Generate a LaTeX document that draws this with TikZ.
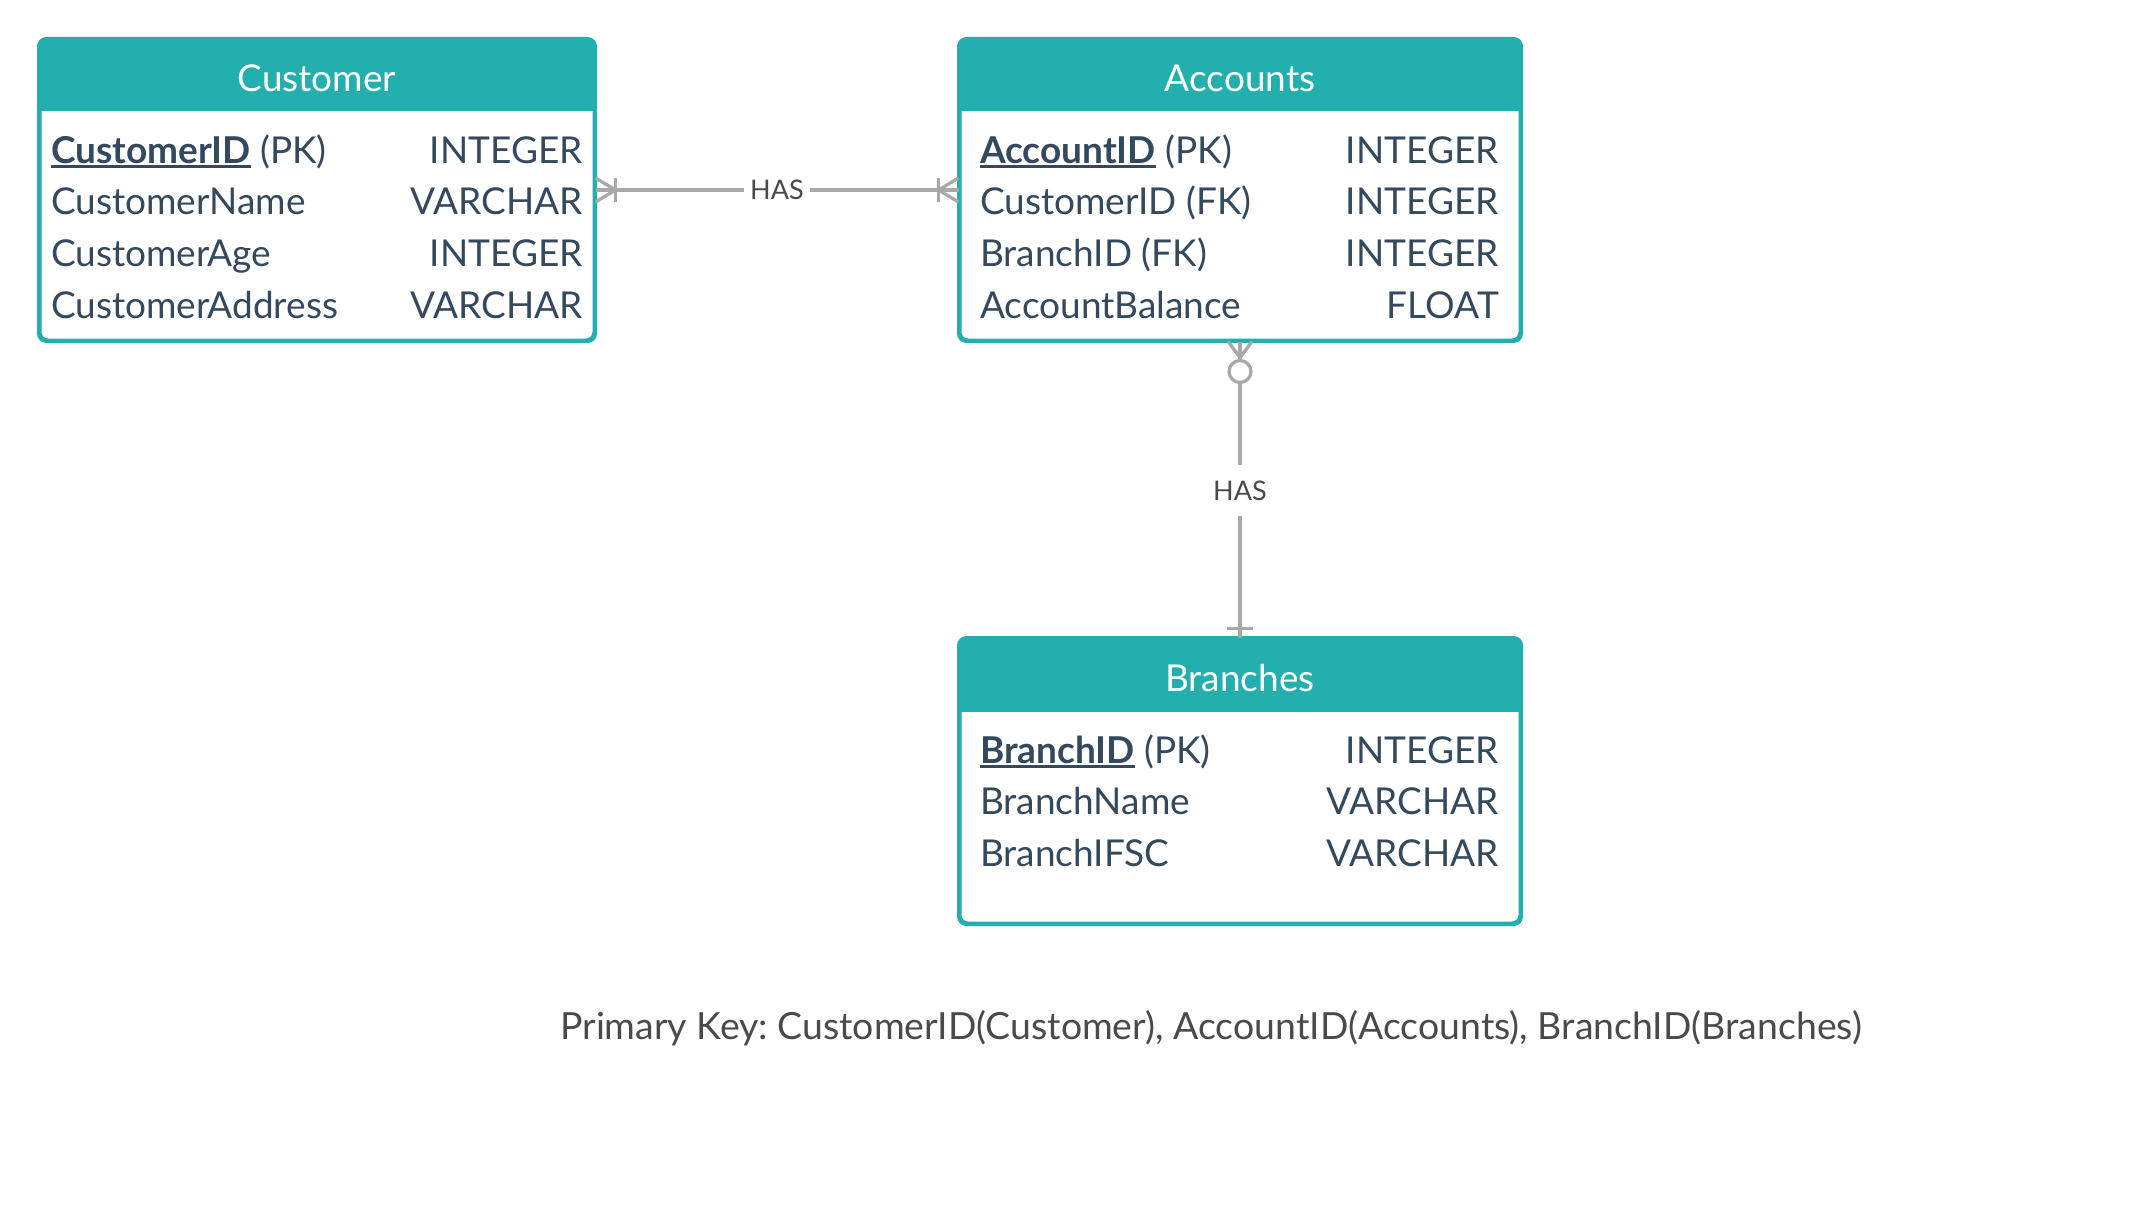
\documentclass[tikz,border=0pt]{standalone}
\usepackage{fontspec}
\setmainfont{Lato}
\usetikzlibrary{calc}
\frenchspacing

\definecolor{erteal}{HTML}{22AFAD}
\definecolor{erink}{HTML}{34495E}
\definecolor{ergrey}{HTML}{A8A8A8}
\definecolor{erlabel}{HTML}{4A4A4A}

% bold, underlined key field
\newcommand{\pkfield}[1]{\setbox0=\hbox{\bfseries #1}\rlap{\rule[-0.13em]{\wd0}{0.075em}}\box0\relax}

\tikzset{
  tablebox/.style={draw=erteal, line width=3pt, rounded corners=8pt, inner sep=0pt},
  headtxt/.style={anchor=base, inner sep=0pt, text=white, font=\fontsize{37}{44}\selectfont},
  fieldname/.style={anchor=base west, inner sep=0pt, text=erink, font=\fontsize{37}{44}\selectfont},
  fieldtype/.style={anchor=base east, inner sep=0pt, text=erink, font=\fontsize{37}{44}\selectfont},
  rel/.style={draw=ergrey, line width=3.2pt},
  haslbl/.style={fill=white, text=erlabel, font=\fontsize{27}{32}\selectfont,
    text height=19pt, text depth=0pt, inner xsep=6pt, inner ysep=16pt},
  pknote/.style={text=erlabel, inner sep=0pt, font=\fontsize{37.4}{44}\selectfont}
}

\begin{document}
\begin{tikzpicture}[x=1pt, y=-1pt]
\useasboundingbox[fill=white] (0,0) rectangle (2140,1220);

% tables
\node[tablebox, minimum width=554pt, minimum height=300pt] (customer) at (317,190) {};
\node[tablebox, minimum width=560pt, minimum height=300pt] (accounts) at (1240,190) {};
\node[tablebox, minimum width=560pt, minimum height=284pt] (branches) at (1240,781) {};

% header bands
\begin{scope}
\clip[rounded corners=8pt] (customer.north west) rectangle (customer.south east);
\fill[erteal] (customer.north west) rectangle ($(customer.north east)+(0,73)$);
\end{scope}
\begin{scope}
\clip[rounded corners=8pt] (accounts.north west) rectangle (accounts.south east);
\fill[erteal] (accounts.north west) rectangle ($(accounts.north east)+(0,73)$);
\end{scope}
\begin{scope}
\clip[rounded corners=8pt] (branches.north west) rectangle (branches.south east);
\fill[erteal] (branches.north west) rectangle ($(branches.north east)+(0,74)$);
\end{scope}
\draw[tablebox] (customer.north west) rectangle (customer.south east);
\draw[tablebox] (accounts.north west) rectangle (accounts.south east);
\draw[tablebox] (branches.north west) rectangle (branches.south east);

% Customer
\node[headtxt] (customer-title) at (317,91.5) {Customer};
\node[fieldname] (cust-id) at (51,163) {\pkfield{CustomerID} (PK)};
\node[fieldtype] (cust-id-t) at (583,163) {INTEGER};
\node[fieldname] (cust-name) at (51,214.8) {CustomerName};
\node[fieldtype] (cust-name-t) at (583,214.8) {VARCHAR};
\node[fieldname] (cust-age) at (51,266.5) {CustomerAge};
\node[fieldtype] (cust-age-t) at (583,266.5) {INTEGER};
\node[fieldname] (cust-addr) at (51,318.5) {CustomerAddress};
\node[fieldtype] (cust-addr-t) at (583,318.5) {VARCHAR};

% Accounts
\node[headtxt] (accounts-title) at (1240,91.5) {Accounts};
\node[fieldname] (acc-id) at (980,163) {\pkfield{AccountID} (PK)};
\node[fieldtype] (acc-id-t) at (1499,163) {INTEGER};
\node[fieldname] (acc-cust) at (980,214.8) {CustomerID (FK)};
\node[fieldtype] (acc-cust-t) at (1499,214.8) {INTEGER};
\node[fieldname] (acc-branch) at (980,266.5) {BranchID (FK)};
\node[fieldtype] (acc-branch-t) at (1499,266.5) {INTEGER};
\node[fieldname] (acc-bal) at (980,318.5) {AccountBalance};
\node[fieldtype] (acc-bal-t) at (1499,318.5) {FLOAT};

% Branches
\node[headtxt] (branches-title) at (1240,691.5) {Branches};
\node[fieldname] (br-id) at (980,763.2) {\pkfield{BranchID} (PK)};
\node[fieldtype] (br-id-t) at (1499,763.2) {INTEGER};
\node[fieldname] (br-name) at (980,814.5) {BranchName};
\node[fieldtype] (br-name-t) at (1499,814.5) {VARCHAR};
\node[fieldname] (br-ifsc) at (980,866.5) {BranchIFSC};
\node[fieldtype] (br-ifsc-t) at (1499,866.5) {VARCHAR};

% relationships
\draw[rel] (customer.east) -- node[haslbl] (has-ca) {HAS} (accounts.west);
\draw[rel] (accounts.south) -- node[haslbl, pos=0.505] (has-ab) {HAS} (branches.north);

% one or many at Customer
\draw[rel] ($(customer.east)+(0,-12)$) -- ($(customer.east)+(20,0)$) -- ($(customer.east)+(0,12)$);
\draw[rel] ($(customer.east)+(20,-12)$) -- ($(customer.east)+(20,12)$);
% one or many at Accounts
\draw[rel] ($(accounts.west)+(0,-12)$) -- ($(accounts.west)+(-20,0)$) -- ($(accounts.west)+(0,12)$);
\draw[rel] ($(accounts.west)+(-20,-12)$) -- ($(accounts.west)+(-20,12)$);
% zero or many at Accounts
\draw[rel] ($(accounts.south)+(-12,0)$) -- ($(accounts.south)+(0,16)$) -- ($(accounts.south)+(12,0)$);
\draw[rel, fill=white] ($(accounts.south)+(0,30)$) circle[radius=11pt];
% one at Branches
\draw[rel] ($(branches.north)+(-13,-9)$) -- ($(branches.north)+(13,-9)$);

% note
\node[pknote] (pk-note) at (1211,1028) {Primary Key: CustomerID(Customer), AccountID(Accounts), BranchID(Branches)};
\end{tikzpicture}
\end{document}
